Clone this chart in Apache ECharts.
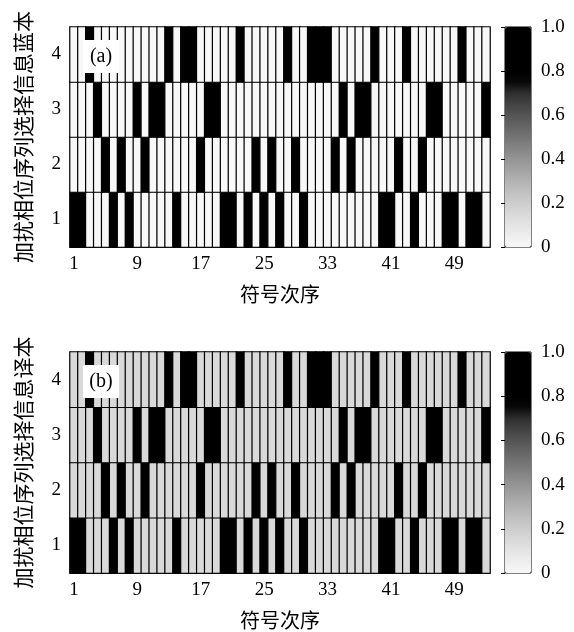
<!DOCTYPE html>
<html><head><meta charset="utf-8">
<script src="https://cdn.jsdelivr.net/npm/echarts@6/dist/echarts.min.js"></script>
<style>html,body{margin:0;padding:0;background:#fff}#c{width:574px;height:632px}</style>
</head><body><div id="c"></div>
<script>
// symbol index categories 1..53
const symbols = ['1','2','3','4','5','6','7','8','9','10','11','12','13','14','15','16','17','18','19','20','21','22','23','24','25','26','27','28','29','30','31','32','33','34','35','36','37','38','39','40','41','42','43','44','45','46','47','48','49','50','51','52','53'];
const rowLabels = ['1','2','3','4'];

// (a) original selection info, one row per candidate sequence
const rowA1 = [1,1,0,0,0,1,0,1,0,0, 0,0,0,1,0,0,0,0,0,1, 1,0,1,0,1,0,1,0,0,1, 0,0,0,0,0,0,0,0,0,1, 1,0,0,1,0,0,0,1,1,0, 1,1,0];
const rowA2 = [0,0,0,0,1,0,1,0,0,1, 0,0,0,0,0,0,1,0,0,0, 0,0,0,1,0,1,0,0,1,0, 0,0,0,1,0,1,0,0,0,0, 0,1,0,0,1,0,0,0,0,0, 0,0,0];
const rowA3 = [0,0,0,1,0,0,0,0,1,0, 1,1,0,0,0,0,0,1,1,0, 0,0,0,0,0,0,0,0,0,0, 0,0,0,0,1,0,1,1,0,0, 0,0,0,0,0,1,1,0,0,0, 0,0,1];
const rowA4 = [0,0,1,0,0,0,0,0,0,0, 0,0,1,0,1,1,0,0,0,0, 0,1,0,0,0,0,0,1,0,0, 1,1,1,0,0,0,0,0,1,0, 0,0,1,0,0,0,0,0,0,1, 0,0,0];

// (b) decoded selection info
const rowB1 = [0.95,0.95,0.15,0.15,0.15,0.95,0.15,0.95,0.15,0.15, 0.15,0.15,0.15,0.95,0.15,0.15,0.15,0.15,0.15,0.95, 0.95,0.15,0.95,0.15,0.95,0.15,0.95,0.15,0.15,0.95, 0.15,0.15,0.15,0.15,0.15,0.15,0.15,0.15,0.15,0.95, 0.95,0.15,0.15,0.95,0.15,0.15,0.15,0.95,0.95,0.15, 0.95,0.95,0.15];
const rowB2 = [0.15,0.15,0.15,0.15,0.95,0.15,0.95,0.15,0.15,0.95, 0.15,0.15,0.15,0.15,0.15,0.15,0.95,0.15,0.15,0.15, 0.15,0.15,0.15,0.95,0.15,0.95,0.15,0.15,0.95,0.15, 0.15,0.15,0.15,0.95,0.15,0.95,0.15,0.15,0.15,0.15, 0.15,0.95,0.15,0.15,0.95,0.15,0.15,0.15,0.15,0.15, 0.15,0.15,0.15];
const rowB3 = [0.15,0.15,0.15,0.95,0.15,0.15,0.15,0.15,0.95,0.15, 0.95,0.95,0.15,0.15,0.15,0.15,0.15,0.95,0.95,0.15, 0.15,0.15,0.15,0.15,0.15,0.15,0.15,0.15,0.15,0.15, 0.15,0.15,0.15,0.15,0.95,0.15,0.95,0.95,0.15,0.15, 0.15,0.15,0.15,0.15,0.15,0.95,0.95,0.15,0.15,0.15, 0.15,0.15,0.95];
const rowB4 = [0.15,0.15,0.95,0.15,0.15,0.15,0.15,0.15,0.15,0.15, 0.15,0.15,0.95,0.15,0.95,0.95,0.15,0.15,0.15,0.15, 0.15,0.95,0.15,0.15,0.15,0.15,0.15,0.95,0.15,0.15, 0.95,0.95,0.95,0.15,0.15,0.15,0.15,0.15,0.95,0.15, 0.15,0.15,0.95,0.15,0.15,0.15,0.15,0.15,0.15,0.95, 0.15,0.15,0.15];

const grays = [248,238,228,217,205,192,178,163,148,132,116,100,84,66,46,8,0,0,0,0,0];
const cmap = grays.map(g => 'rgb(' + g + ',' + g + ',' + g + ')');

function toCells(rows) {
  const out = [];
  rows.forEach((r, yi) => r.forEach((v, xi) => out.push([xi, yi, v])));
  return out;
}
const cellsA = toCells([rowA1, rowA2, rowA3, rowA4]);
const cellsB = toCells([rowB1, rowB2, rowB3, rowB4]);

const SERIF = 'Liberation Serif';
const CJK = 'Noto Sans CJK SC';

const panels = [
  {top: 27, height: 220, label: '(a)', name: '加扰相位序列选择信息蓝本', cells: cellsA},
  {top: 352, height: 221, label: '(b)', name: '加扰相位序列选择信息译本', cells: cellsB}
];

const grid = [], xAxis = [], yAxis = [], series = [], visualMap = [], graphic = [];
panels.forEach((p, i) => {
  grid.push({left: 70, top: p.top, width: 420, height: p.height, show: false});
  grid.push({left: 505, top: p.top, width: 26, height: p.height, show: true, borderColor: '#000', borderWidth: 1, backgroundColor: 'transparent'});
  xAxis.push({
    type: 'category', gridIndex: 2*i, data: symbols,
    axisLine: {show: true, lineStyle: {color: '#000', width: 1}},
    axisTick: {show: true, inside: true, interval: 3, alignWithLabel: true, length: 4, lineStyle: {color: '#000'}},
    axisLabel: {interval: 7, fontFamily: SERIF, fontSize: 19, color: '#000', margin: 8},
    splitLine: {show: false},
    name: '符号次序', nameLocation: 'middle', nameGap: 37,
    nameTextStyle: {fontFamily: CJK, fontSize: 20, color: '#000'}
  });
  xAxis.push({type: 'value', gridIndex: 2*i+1, show: false, min: 0, max: 1});
  yAxis.push({
    type: 'category', gridIndex: 2*i, data: rowLabels,
    axisLine: {show: true, lineStyle: {color: '#000', width: 1}},
    axisTick: {show: true, inside: true, alignWithLabel: true, length: 4, lineStyle: {color: '#000'}},
    axisLabel: {fontFamily: SERIF, fontSize: 19, color: '#000', margin: 9},
    name: p.name, nameLocation: 'middle', nameGap: 36, nameRotate: 90,
    nameTextStyle: {fontFamily: CJK, fontSize: 21, color: '#000'}
  });
  yAxis.push({
    type: 'value', gridIndex: 2*i+1, position: 'right', min: 0, max: 1, interval: 0.2,
    axisLine: {show: false}, splitLine: {show: false},
    axisTick: {show: true, inside: true, length: 4, lineStyle: {color: '#000'}},
    axisLabel: {fontFamily: SERIF, fontSize: 19, color: '#000', margin: 10,
      formatter: v => (v === 0 ? '0' : v.toFixed(1))}
  });
  series.push({
    type: 'heatmap', xAxisIndex: 2*i, yAxisIndex: 2*i, data: p.cells,
    itemStyle: {borderColor: '#000', borderWidth: 1.2},
    emphasis: {disabled: true}, silent: true
  });
  visualMap.push({
    type: 'continuous', seriesIndex: i, min: 0, max: 1, calculable: false,
    orient: 'vertical', left: 505, top: p.top, itemWidth: 26, itemHeight: p.height,
    padding: 0, text: null, showLabel: false, z: 0,
    inRange: {color: cmap}, hoverLink: false
  });
  graphic.push({type: 'rect', x: 83, y: p.top + 13, z: 100, silent: true,
    shape: {x: 0, y: 0, width: 36, height: 33}, style: {fill: '#fff'}});
  graphic.push({type: 'text', x: 101, y: p.top + 29.5, z: 101, silent: true,
    style: {text: p.label, fontFamily: SERIF, fontSize: 20, fill: '#000', align: 'center', verticalAlign: 'middle'}});
});

const chart = echarts.init(document.getElementById('c'), null, {renderer: 'canvas'});
chart.setOption({
  animation: false, backgroundColor: '#fff',
  grid, xAxis, yAxis, series, visualMap,
  graphic: {elements: graphic}
});
</script></body></html>
